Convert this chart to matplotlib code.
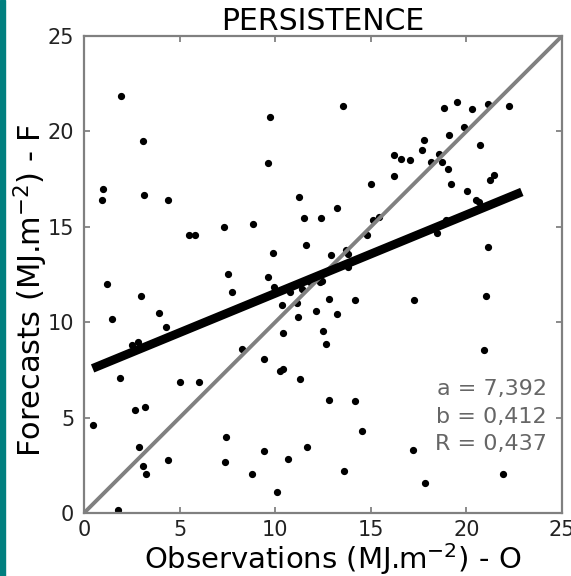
import numpy as np
import matplotlib.pyplot as plt

# observed vs forecast daily irradiation (MJ.m-2), persistence model
obs = [1.94, 9.71, 3.07, 9.61, 0.99, 3.12, 11.24, 13.55, 18.84, 19.49,
       20.28, 21.15, 22.25, 19.89, 19.09, 17.78, 17.68, 20.73, 16.19, 16.60,
       17.07, 18.55, 18.15, 18.72, 19.02, 15.03, 16.19, 19.19, 21.21, 21.44,
       20.03, 0.96, 4.41, 11.50, 12.38, 7.30, 8.84, 5.47, 5.81, 11.59,
       9.86, 7.51, 9.61, 9.94, 1.19, 7.74, 3.00, 10.80, 11.40, 10.34,
       11.16, 3.92, 1.46, 11.20, 12.12, 4.30, 10.43, 12.50, 2.82, 2.53,
       8.24, 13.23, 20.50, 20.65, 15.11, 15.44, 18.93, 14.80, 18.46, 13.70,
       13.81, 12.92, 21.13, 13.79, 12.45, 12.83, 14.16, 17.24, 21.03, 13.23,
       12.66, 20.90, 1.88, 5.00, 6.03, 9.41, 10.23, 10.43, 11.28, 0.47,
       2.65, 3.19, 2.89, 3.07, 3.23, 4.39, 7.43, 7.36, 9.40, 8.79,
       10.08, 10.67, 11.66, 1.80, 12.83, 14.16, 14.56, 13.60, 17.21, 17.85,
       21.91, 11.82, 12.34]
fcst = [21.87, 20.75, 19.50, 18.34, 17.00, 16.65, 16.55, 21.33, 21.24, 21.54,
        21.17, 21.42, 21.33, 20.23, 19.81, 19.53, 19.03, 19.29, 18.76, 18.57,
        18.50, 18.82, 18.41, 18.40, 18.05, 17.26, 17.65, 17.26, 17.47, 17.71,
        16.88, 16.39, 16.39, 15.45, 15.45, 14.98, 15.15, 14.57, 14.57, 14.03,
        13.63, 12.54, 12.37, 11.84, 12.00, 11.60, 11.37, 11.57, 11.75, 10.90,
        11.02, 10.50, 10.18, 10.27, 10.60, 9.73, 9.43, 9.55, 8.96, 8.79,
        8.62, 15.98, 16.40, 16.30, 15.36, 15.53, 15.36, 14.55, 14.66, 13.78,
        13.59, 13.50, 13.96, 12.89, 12.16, 11.20, 11.15, 11.15, 11.37, 10.45,
        8.87, 8.54, 7.06, 6.88, 6.88, 8.05, 7.44, 7.53, 7.00, 4.63,
        5.41, 5.57, 3.46, 2.45, 2.06, 2.76, 4.00, 2.66, 3.23, 2.06,
        1.10, 2.81, 3.46, 0.16, 5.94, 5.89, 4.30, 2.20, 3.29, 1.57,
        2.04, 12.12, 12.12]

a = 7.392
b = 0.412
R = 0.437
fit_range = [0.45, 22.9]
ticks = [0, 5, 10, 15, 20, 25]

fig = plt.figure(figsize=(5.71, 5.76), dpi=100)
# teal strip on the left edge
fig.patches.append(plt.Rectangle((0, 0), 5 / 571, 1, transform=fig.transFigure,
                                 color='#007f7f', zorder=0))
ax = fig.add_axes([84 / 571, 1 - 513 / 576, 478 / 571, 477 / 576])

ax.plot(obs, fcst, 'o', color='black', markersize=4.2, zorder=2)
ax.plot([0, 25], [0, 25], color='#808080', linewidth=2.8, zorder=3)
xf = np.array(fit_range)
ax.plot(xf, a + b * xf, color='black', linewidth=6.3, solid_capstyle='butt', zorder=4)

ax.set_xlim(0, 25)
ax.set_ylim(0, 25)
ax.set_xticks(ticks)
ax.set_yticks(ticks)
ax.tick_params(direction='in', length=4, width=1.2, color='#777777',
               labelsize=15, labelcolor='#222222', top=True, right=True, pad=7)
ax.tick_params(axis='x', pad=5)
for s in ax.spines.values():
    s.set_color('#808080')
    s.set_linewidth(1.6)

ax.set_title('PERSISTENCE', fontsize=21.5, pad=4)
fig.text(333 / 571, 1 - 569 / 576, 'Observations (MJ.m$^{-2}$) - O', fontsize=21,
         ha='center', va='baseline')
fig.text(31 / 571, 1 - 290 / 576, 'Forecasts (MJ.m$^{-2}$) - F', fontsize=22,
         ha='center', va='center', rotation=90)

labels = [f"a = {a:.3f}", f"b = {b:.3f}", f"R = {R:.3f}"]
for lab, yp in zip(labels, [389, 417, 444]):
    ax.text(547 / 571, 1 - yp / 576, lab.replace('.', ','), transform=fig.transFigure,
            ha='right', va='center', fontsize=16, color='#666666')

fig.savefig('out.png', dpi=100)
